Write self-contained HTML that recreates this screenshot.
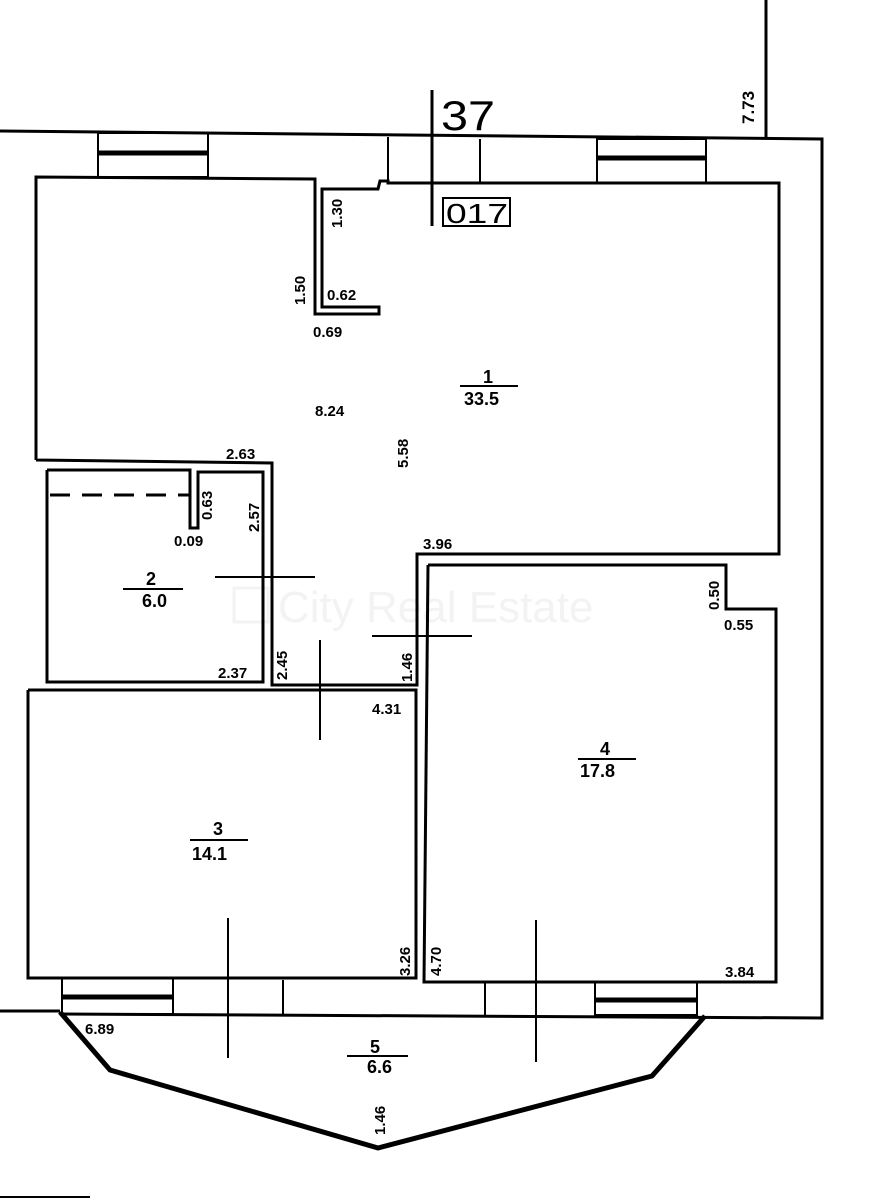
<!DOCTYPE html>
<html><head><meta charset="utf-8"><style>
html,body{margin:0;padding:0;background:#fff;}
svg{display:block;}
text{font-family:"Liberation Sans",sans-serif;fill:#000;}
.l{fill:none;stroke:#000;stroke-width:3;stroke-linejoin:miter;}
.t{fill:none;stroke:#000;stroke-width:2;}
.d{font-size:15px;font-weight:bold;}
</style></head><body>
<svg width="896" height="1200" viewBox="0 0 896 1200" xmlns="http://www.w3.org/2000/svg">
<rect width="896" height="1200" fill="#fff"/>
<rect x="234" y="588" width="34" height="34" fill="none" stroke="#f3f3f3" stroke-width="3"/>
<text x="278" y="622" font-size="44" style="fill:#f3f3f3">City Real Estate</text>

<!-- outer walls -->
<polyline class="l" points="0,131 822,139 822,1018 60,1014"/>
<line class="l" x1="0" y1="1011" x2="60" y2="1011"/>
<polyline fill="none" stroke="#000" stroke-width="5" stroke-linejoin="round" points="60,1012 110,1070 378,1148 652,1076 705,1016"/>

<rect class="t" x="98" y="133" width="110" height="44"/>
<line x1="98" y1="153" x2="208" y2="153" stroke="#000" stroke-width="5"/>
<rect class="t" x="597" y="139" width="109" height="44"/>
<line x1="597" y1="158" x2="706" y2="158" stroke="#000" stroke-width="5"/>
<line class="t" x1="388" y1="137" x2="388" y2="181"/>
<line class="t" x1="480" y1="139" x2="480" y2="183"/>
<line x1="432" y1="90" x2="432" y2="226" stroke="#000" stroke-width="3"/>
<text x="441" y="130" font-size="42" textLength="54" lengthAdjust="spacingAndGlyphs">37</text>
<rect x="443" y="198" width="67" height="28" fill="none" stroke="#000" stroke-width="2"/>
<text x="446" y="223" font-size="28" textLength="62" lengthAdjust="spacingAndGlyphs">017</text>
<line x1="766" y1="0" x2="766" y2="137" stroke="#000" stroke-width="3"/>
<text transform="translate(754,124) rotate(-90)" font-size="17" font-weight="bold">7.73</text>

<polyline class="l" points="36,460 36,177 315,179 315,314 379,314 379,307 322,307 322,189 378,189 380,181 388,181 388,183 779,183 779,554 417,554 417,685 272,685 272,463 36,460"/>
<polyline class="l" points="47,470 190,470 190,528 198,528 198,472 263,472 263,682 47,682 47,470"/>
<line x1="50" y1="495" x2="190" y2="495" stroke="#000" stroke-width="3" stroke-dasharray="20,12"/>
<polyline class="l" points="28,690 416,690 416,978 28,978 28,690"/>
<polyline class="l" points="428,565 726,565 726,609 776,609 776,982 424,982 428,565"/>
<line class="t" x1="272" y1="690" x2="416" y2="690"/>
<rect class="t" x="62" y="978" width="111" height="36"/>
<line x1="62" y1="997" x2="173" y2="997" stroke="#000" stroke-width="5"/>
<rect class="t" x="595" y="982" width="102" height="33"/>
<line x1="595" y1="1000" x2="697" y2="1000" stroke="#000" stroke-width="5"/>
<line class="t" x1="283" y1="980" x2="283" y2="1014"/>
<line class="t" x1="485" y1="982" x2="485" y2="1015"/>

<line class="t" x1="228" y1="918" x2="228" y2="1058"/>
<line class="t" x1="536" y1="920" x2="536" y2="1062"/>
<line class="t" x1="320" y1="640" x2="320" y2="740"/>
<line class="t" x1="215" y1="577" x2="315" y2="577"/>
<line class="t" x1="372" y1="636" x2="472" y2="636"/>

<text x="483" y="383" font-size="18" font-weight="bold">1</text>
<line x1="460" y1="386" x2="518" y2="386" stroke="#000" stroke-width="2"/>
<text x="464" y="405" font-size="18" font-weight="bold">33.5</text>
<text x="146" y="585" font-size="18" font-weight="bold">2</text>
<line x1="123" y1="589" x2="183" y2="589" stroke="#000" stroke-width="2"/>
<text x="142" y="607" font-size="18" font-weight="bold">6.0</text>
<text x="213" y="835" font-size="18" font-weight="bold">3</text>
<line x1="190" y1="840" x2="248" y2="840" stroke="#000" stroke-width="2"/>
<text x="192" y="860" font-size="18" font-weight="bold">14.1</text>
<text x="600" y="755" font-size="18" font-weight="bold">4</text>
<line x1="578" y1="759" x2="636" y2="759" stroke="#000" stroke-width="2"/>
<text x="580" y="777" font-size="18" font-weight="bold">17.8</text>
<text x="370" y="1053" font-size="18" font-weight="bold">5</text>
<line x1="347" y1="1056" x2="408" y2="1056" stroke="#000" stroke-width="2"/>
<text x="367" y="1073" font-size="18" font-weight="bold">6.6</text>

<text class="d" transform="translate(342,228) rotate(-90)">1.30</text>
<text class="d" transform="translate(305,305) rotate(-90)">1.50</text>
<text class="d" x="327" y="300">0.62</text>
<text class="d" x="313" y="337">0.69</text>
<text class="d" x="315" y="416">8.24</text>
<text class="d" transform="translate(408,468) rotate(-90)">5.58</text>
<text class="d" x="226" y="459">2.63</text>
<text class="d" transform="translate(212,520) rotate(-90)">0.63</text>
<text class="d" x="174" y="546">0.09</text>
<text class="d" transform="translate(259,532) rotate(-90)">2.57</text>
<text class="d" x="218" y="678">2.37</text>
<text class="d" transform="translate(287,680) rotate(-90)">2.45</text>
<text class="d" transform="translate(412,682) rotate(-90)">1.46</text>
<text class="d" x="423" y="549">3.96</text>
<text class="d" transform="translate(719,610) rotate(-90)">0.50</text>
<text class="d" x="724" y="630">0.55</text>
<text class="d" x="372" y="714">4.31</text>
<text class="d" transform="translate(410,976) rotate(-90)">3.26</text>
<text class="d" transform="translate(441,976) rotate(-90)">4.70</text>
<text class="d" x="725" y="977">3.84</text>
<text class="d" x="85" y="1034">6.89</text>
<text class="d" transform="translate(385,1135) rotate(-90)">1.46</text>

<line x1="0" y1="1197" x2="90" y2="1197" stroke="#000" stroke-width="2"/>
</svg>
</body></html>
